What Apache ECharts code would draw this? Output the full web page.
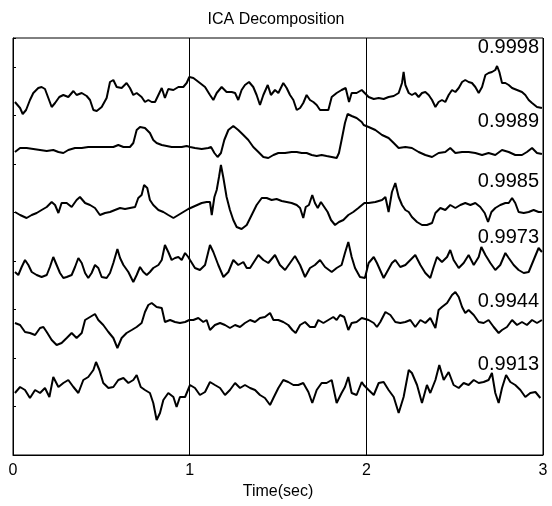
<!DOCTYPE html>
<html>
<head>
<meta charset="utf-8">
<script src="https://cdn.jsdelivr.net/npm/echarts@6/dist/echarts.min.js"></script>
<style>html,body{margin:0;padding:0;background:#fff}#c{width:552px;height:506px}</style>
</head>
<body>
<div id="c"></div>
<script>
// Time ticks (seconds)
const xTicks = [0, 1, 2, 3];
// Correlation labels for each component (top to bottom)
const corrLabels = ['0.9998', '0.9989', '0.9985', '0.9973', '0.9944', '0.9913'];
// Traces: [time (s), stacked amplitude (arbitrary units, axis 0..417)]
const trace1 = [[.011,353],[.040,347],[.055,341],[.074,345],[.096,355],[.115,362],[.143,367],[.162,368],[.181,366],[.200,357],[.219,348],[.238,352],[.262,358],[.285,360],[.313,358],[.342,364],[.360,360],[.389,362],[.417,359],[.436,355],[.455,345],[.474,344],[.502,348],[.530,357],[.549,373],[.568,375],[.587,368],[.615,367],[.643,372],[.662,367],[.681,360],[.700,362],[.728,358],[.747,353],[.766,355],[.785,353],[.804,353],[.823,360],[.842,367],[.860,357],[.879,366],[.908,365],[.936,368],[.964,368],[.983,372],[.998,378],
[1.002,378],[1.021,377],[1.058,372],[1.087,368],[1.115,360],[1.134,355],[1.153,362],[1.181,368],[1.209,363],[1.238,363],[1.257,362],[1.275,355],[1.294,365],[1.313,370],[1.336,373],[1.360,368],[1.379,360],[1.398,350],[1.417,360],[1.442,370],[1.460,360],[1.483,365],[1.502,362],[1.530,372],[1.549,367],[1.568,360],[1.587,355],[1.606,345],[1.625,347],[1.643,352],[1.662,360],[1.681,355],[1.700,353],[1.719,350],[1.738,345],[1.766,345],[1.785,345],[1.804,358],[1.832,362],[1.860,365],[1.883,367],[1.902,353],[1.917,362],[1.945,362],[1.974,365],
[1.985,365],[2.013,358],[2.042,356],[2.070,357],[2.098,356],[2.126,358],[2.155,359],[2.183,362],[2.202,372],[2.211,383],[2.221,370],[2.240,362],[2.258,360],[2.277,362],[2.296,358],[2.315,362],[2.334,363],[2.353,360],[2.372,355],[2.391,348],[2.409,353],[2.428,355],[2.447,353],[2.466,360],[2.485,365],[2.504,363],[2.523,367],[2.542,373],[2.560,375],[2.579,373],[2.598,372],[2.617,368],[2.636,362],[2.655,368],[2.674,380],[2.692,382],[2.711,383],[2.730,385],[2.740,389],[2.753,383],[2.768,372],[2.787,372],[2.806,370],[2.825,367],[2.853,365],[2.881,363],[2.900,360],[2.919,355],[2.938,352],[2.966,348],[2.994,347]];
const trace2 = [[.011,303],[.040,307],[.077,307],[.115,306],[.153,305],[.191,304],[.228,305],[.257,303],[.285,302],[.313,305],[.351,307],[.389,307],[.426,308],[.464,308],[.502,308],[.540,308],[.568,308],[.596,310],[.625,308],[.662,308],[.681,312],[.700,325],[.719,328],[.747,327],[.775,322],[.794,315],[.813,312],[.842,310],[.870,309],[.898,308],[.926,308],[.955,308],[.983,309],
[1.002,308],[1.030,307],[1.068,306],[1.106,307],[1.121,308],[1.140,302],[1.158,298],[1.177,302],[1.196,315],[1.219,325],[1.247,329],[1.275,325],[1.304,320],[1.332,315],[1.360,308],[1.389,303],[1.417,298],[1.445,297],[1.474,300],[1.502,302],[1.540,302],[1.577,303],[1.606,303],[1.634,302],[1.662,302],[1.691,300],[1.719,299],[1.747,300],[1.775,299],[1.804,298],[1.832,297],[1.845,302],[1.860,315],[1.879,332],[1.894,341],[1.917,339],[1.945,337],[1.974,333],
[1.985,330],[2.013,328],[2.051,325],[2.089,320],[2.126,317],[2.155,312],[2.183,307],[2.221,308],[2.258,307],[2.296,303],[2.334,300],[2.372,298],[2.409,302],[2.447,303],[2.475,307],[2.504,302],[2.542,303],[2.579,303],[2.617,302],[2.655,300],[2.692,302],[2.730,300],[2.768,305],[2.806,303],[2.843,300],[2.881,300],[2.909,303],[2.938,307],[2.966,302],[2.994,301]];
const trace3 = [[.011,243],[.040,240],[.077,237],[.106,240],[.134,242],[.162,245],[.191,248],[.219,253],[.238,250],[.257,242],[.275,252],[.304,252],[.332,248],[.360,255],[.379,258],[.408,252],[.436,250],[.464,247],[.492,240],[.521,242],[.549,243],[.577,245],[.606,247],[.634,246],[.662,247],[.691,248],[.709,257],[.728,260],[.742,270],[.760,267],[.775,255],[.794,250],[.823,245],[.851,243],[.879,240],[.908,237],[.936,240],[.964,243],[.992,246],
[1.030,249],[1.068,252],[1.096,253],[1.115,253],[1.125,240],[1.140,258],[1.153,265],[1.166,278],[1.177,290],[1.191,277],[1.209,258],[1.228,245],[1.247,235],[1.266,228],[1.294,226],[1.323,230],[1.351,240],[1.379,250],[1.408,257],[1.436,257],[1.464,255],[1.492,256],[1.521,254],[1.549,253],[1.577,252],[1.606,250],[1.625,247],[1.643,237],[1.657,248],[1.675,250],[1.694,260],[1.709,252],[1.725,247],[1.743,253],[1.762,248],[1.781,243],[1.800,235],[1.823,230],[1.845,233],[1.870,235],[1.898,240],[1.926,243],[1.955,247],[1.989,252],
[2.013,252],[2.051,253],[2.089,255],[2.108,258],[2.126,243],[2.145,263],[2.164,272],[2.183,258],[2.202,250],[2.221,245],[2.240,243],[2.258,238],[2.287,233],[2.315,230],[2.343,230],[2.372,232],[2.391,242],[2.419,247],[2.447,245],[2.475,250],[2.504,247],[2.532,250],[2.560,252],[2.589,250],[2.617,252],[2.645,248],[2.670,242],[2.689,233],[2.708,243],[2.730,247],[2.758,250],[2.787,252],[2.806,252],[2.825,257],[2.843,252],[2.862,243],[2.891,242],[2.919,243],[2.947,245],[2.975,243],[2.994,243]];
const trace4 = [[.011,183],[.030,180],[.049,188],[.068,195],[.087,190],[.106,183],[.134,180],[.162,178],[.191,180],[.209,188],[.228,198],[.247,190],[.266,182],[.285,177],[.304,178],[.332,180],[.351,188],[.370,197],[.389,192],[.408,182],[.426,177],[.445,182],[.464,190],[.483,187],[.502,178],[.530,177],[.549,182],[.568,192],[.591,206],[.606,197],[.625,190],[.653,183],[.681,173],[.700,180],[.719,188],[.738,183],[.757,180],[.775,183],[.794,187],[.823,190],[.842,195],[.860,210],[.879,203],[.898,195],[.917,197],[.936,198],[.955,195],[.974,202],[.992,198],
[1.002,195],[1.030,187],[1.058,185],[1.087,190],[1.115,210],[1.134,203],[1.162,190],[1.191,178],[1.219,183],[1.247,195],[1.275,190],[1.304,193],[1.323,187],[1.342,187],[1.360,192],[1.389,200],[1.417,195],[1.445,192],[1.483,200],[1.511,190],[1.540,185],[1.568,192],[1.596,199],[1.625,190],[1.653,178],[1.681,187],[1.709,190],[1.738,195],[1.766,188],[1.804,183],[1.832,187],[1.860,190],[1.879,202],[1.898,213],[1.917,198],[1.936,187],[1.964,178],[1.992,177],
[2.013,192],[2.042,198],[2.060,192],[2.098,177],[2.145,192],[2.164,195],[2.192,188],[2.221,190],[2.249,195],[2.277,200],[2.306,190],[2.334,182],[2.362,177],[2.381,188],[2.400,198],[2.428,193],[2.457,198],[2.475,205],[2.494,195],[2.523,187],[2.551,192],[2.579,200],[2.608,190],[2.636,198],[2.651,208],[2.674,200],[2.702,192],[2.730,185],[2.758,190],[2.787,202],[2.806,197],[2.834,190],[2.862,185],[2.891,182],[2.919,183],[2.947,195],[2.975,207],[2.994,203]];
const trace5 = [[.011,132],[.040,130],[.068,123],[.096,122],[.125,120],[.153,127],[.172,128],[.191,123],[.219,115],[.247,110],[.275,112],[.304,117],[.332,122],[.360,117],[.389,122],[.408,135],[.436,138],[.464,141],[.483,135],[.511,130],[.540,123],[.568,117],[.591,107],[.615,117],[.643,122],[.672,125],[.700,128],[.728,132],[.747,143],[.766,150],[.785,152],[.813,148],[.842,147],[.860,133],[.889,135],[.917,133],[.945,132],[.974,133],[.998,135],
[1.021,135],[1.049,137],[1.077,133],[1.096,135],[1.115,125],[1.143,130],[1.172,132],[1.200,130],[1.228,127],[1.257,130],[1.285,128],[1.313,132],[1.342,135],[1.370,133],[1.398,137],[1.426,138],[1.455,142],[1.474,135],[1.502,135],[1.530,133],[1.558,130],[1.581,125],[1.600,122],[1.625,130],[1.653,133],[1.681,128],[1.709,128],[1.728,135],[1.757,132],[1.785,135],[1.813,138],[1.832,135],[1.851,140],[1.875,138],[1.898,125],[1.917,132],[1.945,133],[1.974,137],
[1.985,138],[2.013,135],[2.042,132],[2.060,128],[2.079,133],[2.108,143],[2.136,140],[2.164,133],[2.192,132],[2.221,133],[2.249,135],[2.277,128],[2.306,135],[2.334,132],[2.362,137],[2.391,127],[2.409,145],[2.428,148],[2.457,152],[2.485,160],[2.504,163],[2.523,158],[2.542,148],[2.560,142],[2.579,145],[2.608,140],[2.636,133],[2.664,132],[2.692,135],[2.721,128],[2.749,122],[2.768,125],[2.796,128],[2.825,135],[2.853,130],[2.881,133],[2.909,130],[2.938,135],[2.966,132],[2.994,135]];
const trace6 = [[.011,62],[.040,68],[.068,65],[.096,57],[.125,65],[.153,62],[.181,67],[.206,58],[.228,78],[.257,68],[.285,72],[.313,75],[.342,68],[.370,62],[.398,75],[.426,78],[.455,85],[.470,93],[.489,85],[.511,72],[.540,67],[.568,68],[.596,75],[.625,77],[.653,72],[.681,75],[.700,80],[.723,68],[.747,65],[.775,62],[.794,52],[.813,35],[.832,42],[.851,55],[.879,62],[.908,58],[.926,48],[.945,58],[.974,58],
[1.002,70],[1.030,67],[1.058,60],[1.087,63],[1.115,73],[1.143,70],[1.172,67],[1.200,60],[1.228,65],[1.257,72],[1.285,67],[1.313,70],[1.342,67],[1.370,65],[1.398,60],[1.426,57],[1.455,50],[1.474,57],[1.502,67],[1.530,75],[1.558,73],[1.587,70],[1.615,70],[1.643,72],[1.672,63],[1.694,52],[1.719,65],[1.747,72],[1.775,72],[1.804,75],[1.832,52],[1.860,62],[1.879,68],[1.898,78],[1.917,62],[1.945,60],[1.974,73],
[1.985,70],[2.013,65],[2.042,60],[2.070,72],[2.098,73],[2.126,65],[2.155,58],[2.183,42],[2.211,58],[2.240,85],[2.258,82],[2.287,70],[2.315,52],[2.343,70],[2.362,62],[2.391,75],[2.413,90],[2.438,75],[2.466,83],[2.494,70],[2.523,67],[2.551,72],[2.579,70],[2.608,75],[2.636,72],[2.664,73],[2.692,75],[2.711,82],[2.730,62],[2.749,52],[2.768,67],[2.791,80],[2.815,73],[2.843,70],[2.872,65],[2.900,58],[2.928,62],[2.957,63],[2.985,57]];

const traces = [trace1, trace2, trace3, trace4, trace5, trace6];
const labelY = [48, 122, 182, 238, 302, 365];
const FONT = '"Liberation Sans", Arial, Helvetica, sans-serif';

const chart = echarts.init(document.getElementById('c'), null, {renderer: 'canvas'});
chart.setOption({
  animation: false,
  backgroundColor: '#fff',
  title: {
    text: 'ICA Decomposition', left: 'center', top: 7,
    textStyle: {fontFamily: FONT, fontSize: 16, fontWeight: 'normal', color: '#000'}
  },
  grid: {left: 13, right: 9, top: 38, bottom: 51, show: true, borderColor: '#000', borderWidth: 1, backgroundColor: 'transparent'},
  xAxis: {
    type: 'value', min: xTicks[0], max: xTicks[xTicks.length - 1], interval: 1,
    name: 'Time(sec)', nameLocation: 'middle', nameGap: 27,
    nameTextStyle: {fontFamily: FONT, fontSize: 16, color: '#000'},
    axisLine: {lineStyle: {color: '#000', width: 1}},
    axisTick: {show: false},
    axisLabel: {fontFamily: FONT, fontSize: 16, color: '#000', margin: 8},
    splitLine: {show: true, lineStyle: {color: '#000', width: 1}}
  },
  yAxis: {
    type: 'value', min: 0, max: 417, interval: 48.5,
    axisLine: {show: true, lineStyle: {color: '#000', width: 1}},
    axisTick: {show: true, inside: true, length: 3, lineStyle: {color: '#000'}},
    axisLabel: {show: false},
    splitLine: {show: false}
  },
  series: traces.map(d => ({
    type: 'line', data: d, showSymbol: false, symbol: 'none', smooth: false,
    lineStyle: {color: '#000', width: 2}, z: 3
  })),
  graphic: corrLabels.map((t, i) => ({
    type: 'text', right: 13, top: labelY[i] - 11, z: 10,
    style: {text: t, font: '20px ' + FONT, fill: '#000', textAlign: 'right'}
  }))
});
</script>
</body>
</html>
